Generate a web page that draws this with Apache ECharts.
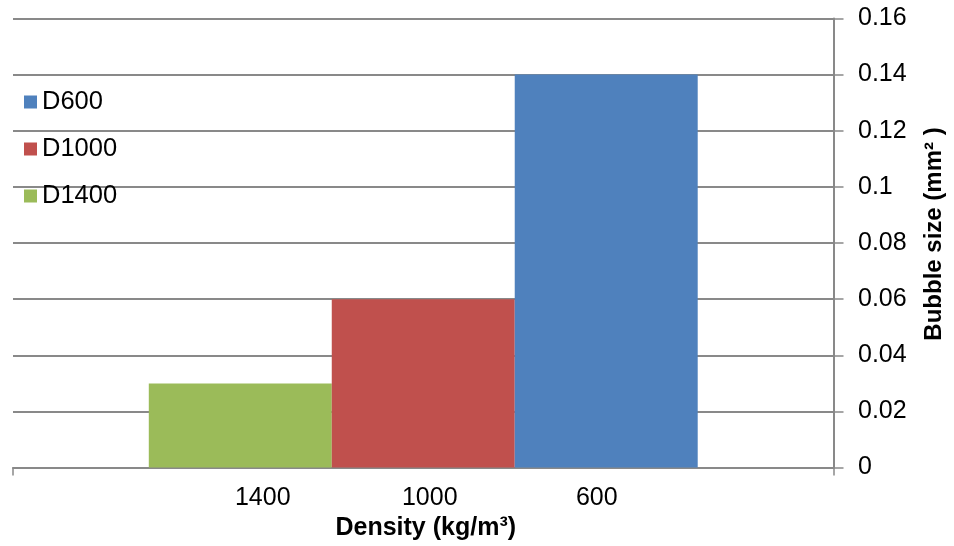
<!DOCTYPE html>
<html>
<head>
<meta charset="utf-8">
<script src="https://cdn.jsdelivr.net/npm/echarts@6/dist/echarts.min.js"></script>
<style>
  html, body { margin: 0; padding: 0; background: #fff; overflow: hidden; }
  #chart { width: 954px; height: 546px; }
</style>
</head>
<body>
<div id="chart"></div>
<script>
// Bubble size by concrete density
const categories = ['density'];
const densityLabels = ['1400', '1000', '600'];
const seriesNames = ['D1400', 'D1000', 'D600'];
const seriesValues = [[0.03], [0.06], [0.14]];
const seriesColors = ['#9BBB59', '#C0504D', '#4F81BD'];
const legendOrder = ['D600', 'D1000', 'D1400'];

const FONT = '"Liberation Sans", Arial, sans-serif';
const AXIS_GRAY = '#898989';

const chart = echarts.init(document.getElementById('chart'), null, { renderer: 'canvas' });

// one spacer block, then a fixed-width block per density label under the bar group
const rich = { pad: { width: 13 } };
densityLabels.forEach((t, i) => {
  rich['l' + i] = { width: 167, align: 'center', fontSize: 25, fontFamily: FONT, color: '#000' };
});

chart.setOption({
  animation: false,
  backgroundColor: '#fff',
  textStyle: { fontFamily: FONT },
  grid: { left: 13, right: 116, top: 18.4, bottom: 74.5, containLabel: false },
  legend: {
    data: legendOrder,
    orient: 'vertical',
    left: 19,
    top: 84,
    itemWidth: 13,
    itemHeight: 13,
    itemGap: 21,
    icon: 'rect',
    textStyle: { fontSize: 25.5, fontFamily: FONT, color: '#000' }
  },
  xAxis: {
    type: 'category',
    data: categories,
    name: 'Density (kg/m³)',
    nameLocation: 'middle',
    nameGap: 46,
    nameTextStyle: { fontSize: 25, fontWeight: 'bold', color: '#000', fontFamily: FONT, padding: [0, 0, 0, 5] },
    axisLine: { lineStyle: { color: AXIS_GRAY, width: 2 } },
    axisTick: { show: true, length: 8, lineStyle: { color: AXIS_GRAY, width: 1.5 } },
    axisLabel: {
      margin: 18.5,
      formatter: () => '{pad|}' + densityLabels.map((t, i) => '{l' + i + '|' + t + '}').join(''),
      rich: rich
    }
  },
  yAxis: {
    type: 'value',
    position: 'right',
    min: 0,
    max: 0.16,
    interval: 0.02,
    name: 'Bubble size (mm² )',
    nameLocation: 'middle',
    nameRotate: 90,
    nameGap: 88.5,
    nameTextStyle: { fontSize: 24, fontWeight: 'bold', color: '#000', fontFamily: FONT, padding: [0, 0, 0, 18] },
    axisLine: { show: true, lineStyle: { color: AXIS_GRAY, width: 2 } },
    axisTick: { show: true, length: 10, lineStyle: { color: AXIS_GRAY, width: 1.5 } },
    axisLabel: {
      margin: 24.5,
      fontSize: 25,
      color: '#000',
      fontFamily: FONT,
      formatter: v => String(parseFloat(v.toFixed(2)))
    },
    splitLine: { show: true, lineStyle: { color: AXIS_GRAY, width: 2 } }
  },
  series: seriesNames.map((name, i) => ({
    name: name,
    type: 'bar',
    data: seriesValues[i],
    barGap: '0%',
    barCategoryGap: '33.1%',
    itemStyle: { color: seriesColors[i] }
  }))
});
</script>
</body>
</html>
